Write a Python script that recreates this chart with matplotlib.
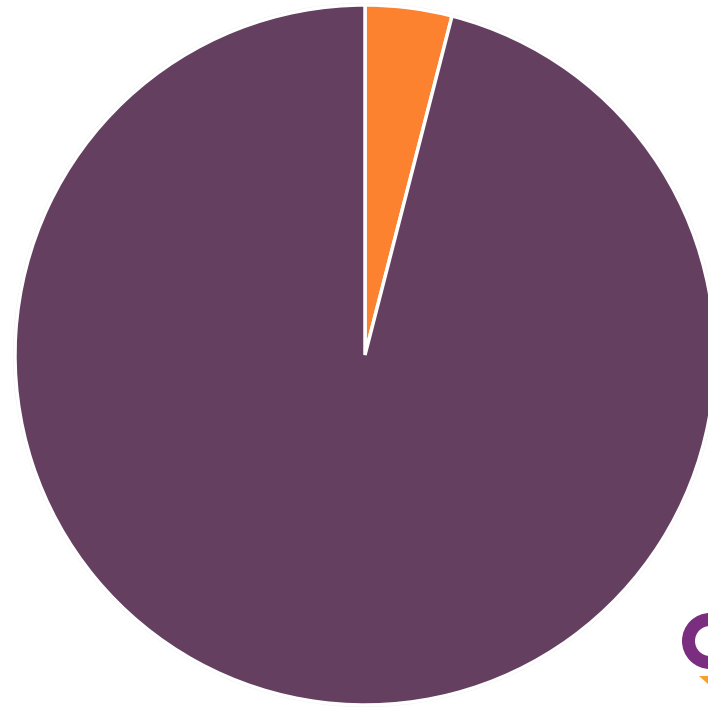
import matplotlib
matplotlib.use("Agg")
import matplotlib.pyplot as plt
from matplotlib.patches import Wedge, Polygon

# share of the whole, percent
labels = ["Orange share", "Purple share"]
values = [4, 96]
colors = ["#fd8230", "#643f5f"]

fig = plt.figure(figsize=(7.08, 7.08), dpi=100)
fig.patch.set_facecolor("white")
ax = fig.add_axes([0, 0, 1, 1])

# faint outer ring
ax.add_patch(Wedge((365, 353), 352, 0, 360, width=3, facecolor="#ececec",
                   edgecolor="none"))

ax.pie(values, labels=None, colors=colors, startangle=90, counterclock=False,
       center=(365, 353), radius=350, frame=True,
       wedgeprops=dict(edgecolor="white", linewidth=2.5))
ax.set_xlim(0, 708)
ax.set_ylim(0, 708)
ax.set_aspect("equal")
ax.axis("off")

# logo fragment in the lower right corner
ax.add_patch(Wedge((710, 67), 28, 90, 270, width=13, facecolor="#7b2d80",
                   edgecolor="none"))
ax.add_patch(Polygon([[699, 32], [708, 32], [708, 24]], closed=True,
                     facecolor="#f7a12a", edgecolor="none"))

fig.savefig("out.png", dpi=100, facecolor="white")
